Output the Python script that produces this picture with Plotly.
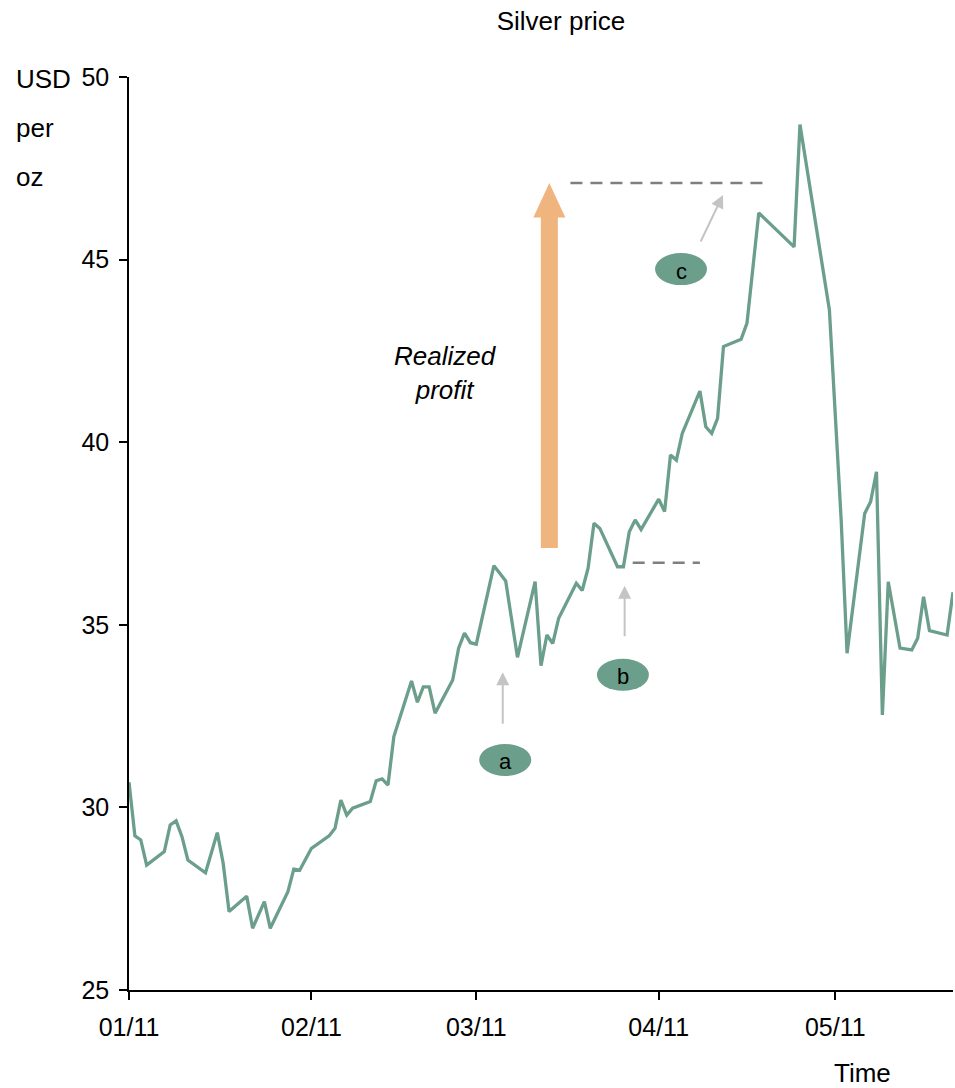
import pandas as pd
import plotly.graph_objects as go

# Daily silver price (USD per troy ounce)
dates = [
    "2011-01-01", "2011-01-02", "2011-01-03", "2011-01-04", "2011-01-07", "2011-01-08",
    "2011-01-09", "2011-01-10", "2011-01-11", "2011-01-14", "2011-01-16", "2011-01-17",
    "2011-01-18", "2011-01-21", "2011-01-22", "2011-01-24", "2011-01-25", "2011-01-28",
    "2011-01-29", "2011-01-30", "2011-02-01", "2011-02-04", "2011-02-05", "2011-02-06",
    "2011-02-07", "2011-02-08", "2011-02-11", "2011-02-12", "2011-02-13", "2011-02-14",
    "2011-02-15", "2011-02-18", "2011-02-19", "2011-02-20", "2011-02-21", "2011-02-22",
    "2011-02-25", "2011-02-26", "2011-02-27", "2011-02-28", "2011-03-01", "2011-03-04",
    "2011-03-05", "2011-03-06", "2011-03-08", "2011-03-11", "2011-03-12", "2011-03-13",
    "2011-03-14", "2011-03-15", "2011-03-18", "2011-03-19", "2011-03-20", "2011-03-21",
    "2011-03-22", "2011-03-25", "2011-03-26", "2011-03-27", "2011-03-28", "2011-03-29",
    "2011-04-01", "2011-04-02", "2011-04-03", "2011-04-04", "2011-04-05", "2011-04-08",
    "2011-04-09", "2011-04-10", "2011-04-11", "2011-04-12", "2011-04-15", "2011-04-16",
    "2011-04-18", "2011-04-24", "2011-04-25", "2011-04-30", "2011-05-02", "2011-05-03",
    "2011-05-06", "2011-05-07", "2011-05-08", "2011-05-09", "2011-05-10", "2011-05-12",
    "2011-05-14", "2011-05-15", "2011-05-16", "2011-05-17", "2011-05-20", "2011-05-21",
]
prices = [
    30.69, 29.22, 29.11, 28.42, 28.79, 29.52,
    29.63, 29.20, 28.56, 28.21, 29.31, 28.47,
    27.15, 27.57, 26.69, 27.42, 26.69, 27.69,
    28.31, 28.28, 28.88, 29.22, 29.43, 30.20,
    29.79, 29.98, 30.16, 30.73, 30.78, 30.61,
    31.94, 33.46, 32.88, 33.30, 33.30, 32.58,
    33.49, 34.36, 34.77, 34.51, 34.47, 36.62,
    36.41, 36.20, 34.11, 36.18, 33.88, 34.72,
    34.49, 35.18, 36.14, 35.94, 36.55, 37.78,
    37.64, 36.59, 36.59, 37.55, 37.87, 37.61,
    38.44, 38.10, 39.65, 39.51, 40.24, 41.40,
    40.42, 40.24, 40.65, 42.62, 42.82, 43.26,
    46.28, 45.35, 48.70, 43.62, 37.87, 34.22,
    38.05, 38.37, 39.19, 32.53, 36.18, 34.36,
    34.31, 34.63, 35.77, 34.84, 34.72, 35.89,
]

y_ticks = [25, 30, 35, 40, 45, 50]
x_range = ["2011-01-01", "2011-05-21"]

# Trade levels: entry (b) and exit (c)
entry_level = 36.7
exit_level = 47.1
entry_span = ["2011-03-27 14:00", "2011-04-08"]
exit_span = ["2011-03-17", "2011-04-19"]

# Realized-profit arrow
profit_date = "2011-03-13 10:00"
profit_from = 37.1
profit_head = 46.15
profit_to = exit_level

# Marker labels: (label, bubble date, bubble value, arrow tip date, tip value, tail dx, tail dy)
markers = [
    ("a", "2011-03-05 22:00", 31.3, "2011-03-05 12:00", 33.7, 0, 53),
    ("b", "2011-03-25 22:00", 33.63, "2011-03-26 05:00", 36.07, 0, 52),
    ("c", "2011-04-04 19:00", 44.74, "2011-04-11 22:00", 46.77, -23, 48),
]

LINE_COLOR = "#6B9E8B"
BUBBLE_COLOR = "#6B9E8B"
ORANGE = "#F0B47E"
DASH_GREY = "#7F7F7F"
ARROW_GREY = "#C4C4C4"
FONT = "Liberation Sans, Arial, sans-serif"
LABEL_SIZE = 26

fig = go.Figure()
fig.add_trace(go.Scatter(
    x=pd.to_datetime(dates), y=prices, mode="lines",
    line=dict(color=LINE_COLOR, width=3.3), hoverinfo="skip", showlegend=False,
))

# Horizontal position of the profit arrow as a fraction of the x-range
t0 = pd.Timestamp(x_range[0])
t1 = pd.Timestamp(x_range[1])
xc = (pd.Timestamp(profit_date) - t0) / (t1 - t0)
plot_w = 824.0
shaft = 8.5 / plot_w
head = 16.0 / plot_w
path = (
    f"M {xc - shaft},{profit_from} L {xc + shaft},{profit_from} "
    f"L {xc + shaft},{profit_head} L {xc + head},{profit_head} "
    f"L {xc},{profit_to} L {xc - head},{profit_head} "
    f"L {xc - shaft},{profit_head} Z"
)

shapes = [
    dict(type="path", xref="paper", yref="y", path=path,
         fillcolor=ORANGE, line=dict(width=0), layer="above"),
    dict(type="line", xref="x", yref="y", x0=exit_span[0], x1=exit_span[1],
         y0=exit_level, y1=exit_level,
         line=dict(color=DASH_GREY, width=2.5, dash="12px,8px")),
    dict(type="line", xref="x", yref="y", x0=entry_span[0], x1=entry_span[1],
         y0=entry_level, y1=entry_level,
         line=dict(color=DASH_GREY, width=2.5, dash="12px,8px")),
]

annotations = []
for label, bx, by, tx, ty, dx, dy in markers:
    shapes.append(dict(
        type="circle", xref="x", yref="y", xsizemode="pixel", ysizemode="pixel",
        xanchor=bx, yanchor=by, x0=-26, x1=26, y0=-16, y1=16,
        fillcolor=BUBBLE_COLOR, line=dict(width=0),
    ))
    annotations.append(dict(
        x=bx, y=by, xref="x", yref="y", text=label, showarrow=False,
        font=dict(family=FONT, size=22, color="#000000"),
        xanchor="center", yanchor="middle", yshift=-2,
    ))
    annotations.append(dict(
        x=tx, y=ty, xref="x", yref="y", text="", showarrow=True,
        ax=dx, ay=dy, arrowhead=2, arrowsize=1.3, arrowwidth=2,
        arrowcolor=ARROW_GREY,
    ))

annotations += [
    dict(x=0.3835, y=41.9, xref="paper", yref="y",
         text="<i>Realized<br>profit</i>", showarrow=False,
         font=dict(family=FONT, size=LABEL_SIZE, color="#000000"),
         xanchor="center", yanchor="middle"),
    dict(x=-0.1396, y=0.998, xref="paper", yref="paper", text="USD",
         showarrow=False, font=dict(family=FONT, size=LABEL_SIZE, color="#000000"),
         xanchor="left", yanchor="middle"),
    dict(x=-0.1396, y=0.944, xref="paper", yref="paper", text="per",
         showarrow=False, font=dict(family=FONT, size=LABEL_SIZE, color="#000000"),
         xanchor="left", yanchor="middle"),
    dict(x=-0.1396, y=0.891, xref="paper", yref="paper", text="oz",
         showarrow=False, font=dict(family=FONT, size=LABEL_SIZE, color="#000000"),
         xanchor="left", yanchor="middle"),
    dict(x=0.8896, y=-0.0905, xref="paper", yref="paper", text="Time",
         showarrow=False, font=dict(family=FONT, size=LABEL_SIZE, color="#000000"),
         xanchor="center", yanchor="middle"),
]

fig.update_layout(
    width=955, height=1088,
    margin=dict(l=129, r=2, t=77, b=98),
    paper_bgcolor="white", plot_bgcolor="white",
    font=dict(family=FONT, size=25, color="#000000"),
    title=dict(text="Silver price", x=561 / 955, xanchor="center",
               y=1 - 21 / 1088, yanchor="middle",
               font=dict(family=FONT, size=LABEL_SIZE, color="#000000")),
    shapes=shapes,
    annotations=annotations,
    showlegend=False,
)
fig.update_xaxes(
    type="date", range=x_range, tickformat="%m/%y", dtick="M1",
    tick0="2011-01-01", ticks="outside", ticklen=8, tickwidth=1.5,
    tickcolor="#000000", showline=True, linecolor="#000000", linewidth=1.5,
    showgrid=False, zeroline=False, ticklabelstandoff=6,
)
fig.update_yaxes(
    range=[25, 50], tickvals=y_ticks, ticks="outside", ticklen=8, tickwidth=1.5,
    tickcolor="#000000", showline=True, linecolor="#000000", linewidth=1.5,
    showgrid=False, zeroline=False, ticklabelstandoff=5,
)

fig.write_html("out.html")
